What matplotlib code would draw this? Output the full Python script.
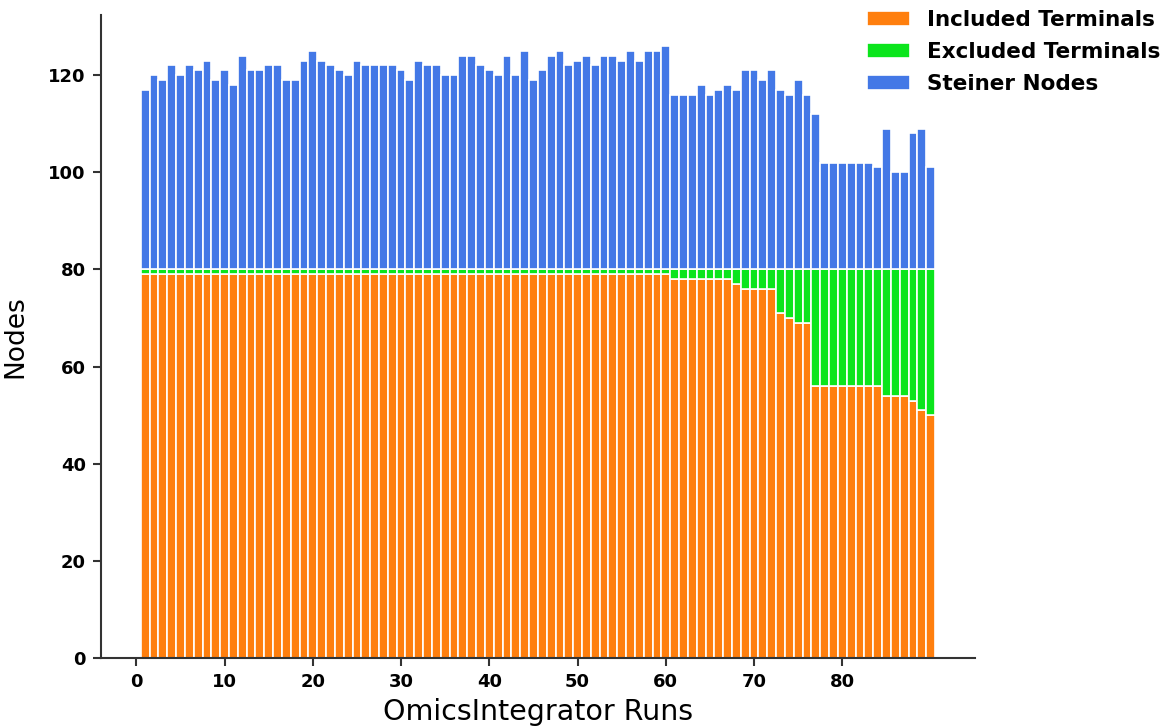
import numpy as np
import matplotlib
matplotlib.use('Agg')
from matplotlib import pyplot as plt

# OmicsIntegrator runs 1..90
runs = np.arange(1, 91)

included = ([79] * 60 + [78] * 7 + [77] + [76] * 4 + [71, 70, 69, 69]
            + [56] * 8 + [54] * 3 + [53, 51, 50])
excluded = ([1] * 60 + [2] * 7 + [3] + [4] * 4 + [9, 10, 11, 11]
            + [24] * 8 + [26] * 3 + [27, 29, 30])
steiner = [37, 40, 39, 42, 40, 42, 41, 43, 39, 41, 38, 44, 41, 41, 42, 42, 39, 39,
           43, 45, 43, 42, 41, 40, 43, 42, 42, 42, 42, 41, 39, 43, 42, 42, 40, 40,
           44, 44, 42, 41, 40, 44, 40, 45, 39, 41, 44, 45, 42, 43, 44, 42, 44, 44,
           43, 45, 43, 45, 45, 46, 36, 36, 36, 38, 36, 37, 38, 37, 41, 41, 39, 41,
           37, 36, 39, 36, 32, 22, 22, 22, 22, 22, 22, 21, 29, 20, 20, 28, 29, 21]

series_names = ['Included Terminals', 'Excluded Terminals', 'Steiner Nodes']
colors = ['#ff7f0e', '#0be51c', '#4378e6']


def main():
    fig = plt.figure(figsize=(11.68, 7.26), dpi=100)
    ax = fig.add_axes([0.0865, 0.0937, 0.748, 0.885])

    inc = np.array(included)
    exc = np.array(excluded)
    ste = np.array(steiner)
    kw = dict(width=1.0, edgecolor='white', linewidth=1.2)
    ax.bar(runs, inc, color=colors[0], label=series_names[0], **kw)
    ax.bar(runs, exc, bottom=inc, color=colors[1], label=series_names[1], **kw)
    ax.bar(runs, ste, bottom=inc + exc, color=colors[2], label=series_names[2], **kw)

    ax.set_xticks(range(0, 90, 10))
    ax.set_yticks(range(0, 121, 20))
    for lab in ax.get_xticklabels() + ax.get_yticklabels():
        lab.set_fontweight('heavy')
        lab.set_fontsize(13)
    ax.tick_params(direction='out', length=6, width=1.5, color='#333333', pad=5)

    for s in ['top', 'right']:
        ax.spines[s].set_visible(False)
    for s in ['left', 'bottom']:
        ax.spines[s].set_color('#333333')
        ax.spines[s].set_linewidth(1.5)

    ax.set_xlabel('OmicsIntegrator Runs', fontsize=20.5, labelpad=5)
    ax.set_ylabel('Nodes', fontsize=19, labelpad=14)

    fig.legend(loc='upper right', bbox_to_anchor=(1.01, 1.013), frameon=False,
               labelspacing=0.55, prop={'weight': 'bold', 'size': 15.5})

    fig.savefig('out.png', dpi=100)


if __name__ == '__main__':
    main()
